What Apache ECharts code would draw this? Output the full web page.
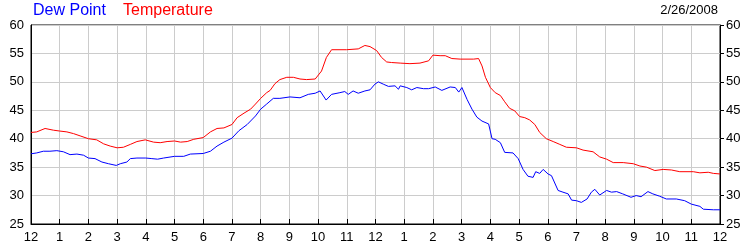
<!DOCTYPE html>
<html><head><meta charset="utf-8">
<script src="https://cdn.jsdelivr.net/npm/echarts@6/dist/echarts.min.js"></script>
<style>html,body{margin:0;padding:0;background:#fff}#c{width:750px;height:250px}</style>
</head><body><div id="c"></div>
<script>
const tempHours = [0,0.2,0.49,0.78,1,1.25,1.48,1.71,2,2.29,2.53,2.76,3,3.22,3.46,3.69,3.98,4.27,4.5,4.74,5,5.21,5.44,5.67,6,6.25,6.48,6.72,7,7.18,7.42,7.65,7.82,8,8.21,8.33,8.5,8.67,8.91,9.14,9.37,9.6,9.9,10.12,10.29,10.47,10.99,11.4,11.63,11.81,12.04,12.21,12.39,12.56,12.86,13.2,13.55,13.85,14,14.25,14.43,14.66,14.95,15.42,15.59,15.71,15.83,16,16.17,16.35,16.5,16.67,16.85,17.02,17.2,17.37,17.55,17.72,17.95,18.19,18.42,18.65,19,19.23,19.58,19.81,20.05,20.28,20.63,20.98,21.21,21.44,21.73,22.02,22.31,22.6,23.07,23.3,23.59,23.77,24];
const tempValues = [41.1,41.2,41.8,41.5,41.35,41.2,40.9,40.5,40.0,39.8,39.1,38.7,38.4,38.5,39.0,39.5,39.8,39.4,39.3,39.5,39.6,39.4,39.5,39.9,40.2,41.2,41.8,41.9,42.5,43.7,44.5,45.2,46.1,47.1,48.1,48.5,49.7,50.4,50.8,50.8,50.5,50.4,50.5,51.9,54.3,55.65,55.65,55.8,56.4,56.2,55.5,54.3,53.5,53.4,53.3,53.2,53.3,53.7,54.7,54.6,54.6,54.1,54.0,54.0,54.1,52.8,50.8,49.0,48.1,47.6,46.5,45.35,44.9,43.9,43.7,43.3,42.5,41.1,40.0,39.5,39.0,38.5,38.4,38.0,37.7,36.8,36.4,35.8,35.8,35.6,35.2,35.0,34.4,34.6,34.5,34.2,34.2,34.0,34.1,33.9,33.8];
const dewHours = [0,0.2,0.43,0.66,0.9,1.13,1.36,1.6,1.83,2,2.23,2.47,2.7,2.97,3.11,3.34,3.46,3.69,4,4.21,4.41,4.62,5,5.32,5.55,6,6.25,6.48,6.72,7,7.24,7.53,7.82,8,8.21,8.44,8.67,9.02,9.37,9.66,9.9,10.07,10.28,10.47,10.76,10.93,11.05,11.22,11.4,11.63,11.81,11.98,12.1,12.27,12.45,12.68,12.8,12.86,13.09,13.26,13.44,13.67,13.85,14.08,14.31,14.6,14.78,14.9,15.01,15.19,15.36,15.53,15.71,15.94,16.06,16.17,16.35,16.5,16.79,16.97,17.14,17.31,17.49,17.58,17.72,17.84,18.01,18.13,18.36,18.53,18.71,18.83,19,19.17,19.37,19.52,19.64,19.81,20.05,20.22,20.4,20.61,20.9,21.08,21.25,21.49,21.66,21.89,22.13,22.48,22.77,23,23.3,23.42,23.77,24];
const dewValues = [37.35,37.5,37.8,37.8,37.9,37.7,37.2,37.3,37.1,36.6,36.5,35.9,35.6,35.3,35.6,35.9,36.5,36.6,36.6,36.5,36.4,36.6,36.9,36.9,37.3,37.4,37.8,38.7,39.4,40.1,41.4,42.5,44.0,45.2,46.1,47.1,47.1,47.35,47.2,47.8,48.0,48.4,46.8,47.8,48.1,48.3,47.8,48.4,48.0,48.4,48.6,49.6,50.0,49.6,49.2,49.3,48.7,49.3,49.0,48.6,49.0,48.8,48.8,49.1,48.5,49.1,49.0,48.2,49.0,46.9,45.2,43.8,43.1,42.6,40.0,39.9,39.3,37.6,37.5,36.5,34.6,33.4,33.2,34.2,33.9,34.6,33.8,33.5,30.9,30.6,30.3,29.2,29.1,28.8,29.4,30.6,31.1,30.1,30.9,30.6,30.7,30.3,29.7,30.0,29.8,30.7,30.3,29.9,29.4,29.4,29.1,28.5,28.1,27.6,27.5,27.5];
const hourLabels = ['12','1','2','3','4','5','6','7','8','9','10','11','12','1','2','3','4','5','6','7','8','9','10','11','12'];
const yMin = 25, yMax = 60, yStep = 5;
const seriesNames = ['Dew Point', 'Temperature'];
const dateText = '2/26/2008';

const FONT = '"Liberation Sans", Arial, sans-serif';
const chart = echarts.init(document.getElementById('c'), null, {renderer: 'canvas'});
const yAxisBase = {
  type: 'value', min: yMin, max: yMax, interval: yStep,
  axisLine: {show: true, lineStyle: {color: '#000', width: 1}},
  splitLine: {show: true, lineStyle: {color: '#cccccc', width: 1}},
  axisLabel: {color: '#000', fontFamily: FONT, fontSize: 13, margin: 7}
};
chart.setOption({
  animation: false,
  backgroundColor: '#fff',
  grid: {left: 31, right: 30, top: 25, bottom: 26, show: true, borderColor: '#000', borderWidth: 1},
  graphic: [
    {type: 'text', left: 33, top: 3, style: {text: seriesNames[0], fill: '#0000ff', font: '16px ' + FONT}},
    {type: 'text', left: 123, top: 3, style: {text: seriesNames[1], fill: '#ff0000', font: '16px ' + FONT}},
    {type: 'text', right: 32, top: 4, style: {text: dateText, fill: '#000', font: '13px ' + FONT}}
  ],
  xAxis: {
    type: 'value', min: 0, max: 24, interval: 1,
    axisLine: {show: true, onZero: false, lineStyle: {color: '#000', width: 1}},
    axisTick: {show: true, inside: true, length: 5, lineStyle: {color: '#000'}},
    splitLine: {show: true, lineStyle: {color: '#cccccc', width: 1}},
    axisLabel: {color: '#000', fontFamily: FONT, fontSize: 13, margin: 7,
      formatter: v => hourLabels[Math.round(v)]}
  },
  yAxis: [
    Object.assign({}, yAxisBase, {position: 'left', axisTick: {show: false}}),
    Object.assign({}, yAxisBase, {position: 'right', splitLine: {show: false},
      axisTick: {show: true, length: 4, lineStyle: {color: '#000'}}, axisLabel: Object.assign({}, yAxisBase.axisLabel, {margin: 6})})
  ],
  series: [
    {name: seriesNames[0], type: 'line', showSymbol: false, symbol: 'none',
      data: dewHours.map((h, i) => [h, dewValues[i]]),
      lineStyle: {color: '#0000ff', width: 1}, itemStyle: {color: '#0000ff'}},
    {name: seriesNames[1], type: 'line', showSymbol: false, symbol: 'none',
      data: tempHours.map((h, i) => [h, tempValues[i]]),
      lineStyle: {color: '#ff0000', width: 1}, itemStyle: {color: '#ff0000'}}
  ]
});
</script>
</body></html>
